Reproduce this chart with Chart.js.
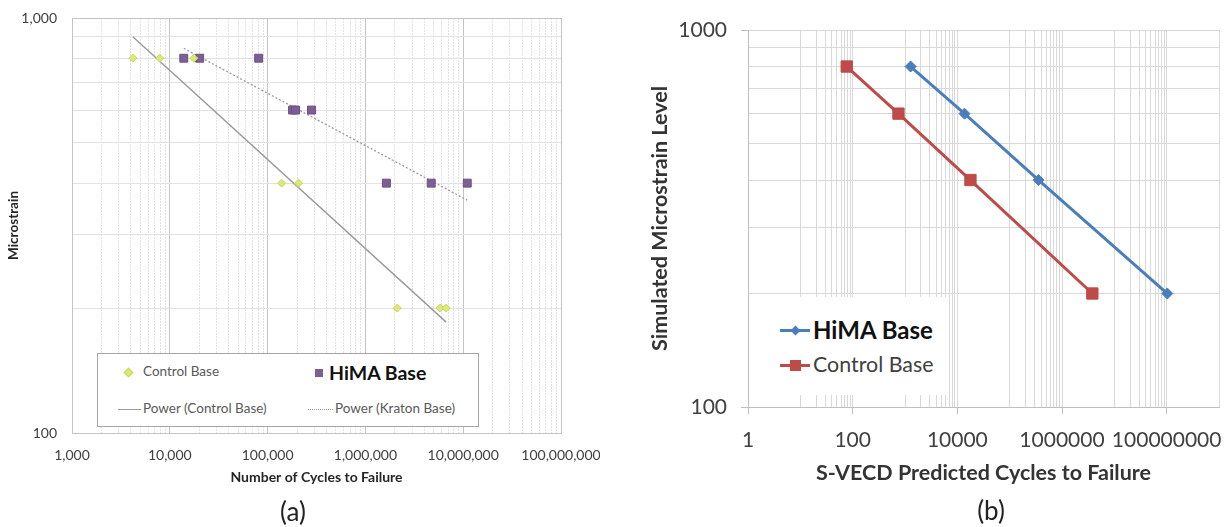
<!DOCTYPE html>
<html><head><meta charset="utf-8">
<script src="https://cdn.jsdelivr.net/npm/chart.js@4.4.1/dist/chart.umd.min.js"></script>
<style>
html,body{margin:0;padding:0;background:#fff;}
#wrap{position:relative;width:1228px;height:527px;overflow:hidden;font-family:Lato,sans-serif;}
canvas{position:absolute;top:0;}
#ca{left:0;}
#cb{left:600px;}
.cap{position:absolute;font-size:26px;color:#222;transform:translate(-50%,-50%);line-height:1;}
.leg{position:absolute;background:#fff;}
.lt{position:absolute;white-space:nowrap;transform:translateY(-50%);line-height:1;}
.abs{position:absolute;}
</style></head>
<body><div id="wrap">
<canvas id="ca" width="600" height="527"></canvas>
<canvas id="cb" width="628" height="527"></canvas>
<div id="legA" class="leg" style="left:97px;top:353px;width:380px;height:72px;border:1px solid #a6a6a6;"></div>
<div id="legB" class="leg" style="left:749px;top:297px;width:200px;height:98px;"></div>
<div class="cap" style="left:293px;top:511px;">(a)</div>
<div class="cap" style="left:991px;top:510px;">(b)</div>
</div>
<script>
// ---------- Chart (a) data ----------
const aControlCycles = [4200, 7900, 17600, 139000, 207000, 2120000, 5800000, 6700000];
const aControlStrain = [800, 800, 800, 400, 400, 200, 200, 200];
const aHimaCycles = [13900, 20200, 81000, 180000, 193000, 281000, 1640000, 4710000, 11000000];
const aHimaStrain = [800, 800, 800, 600, 600, 600, 400, 400, 400];
const aPowerControlCycles = [4190, 6700000];
const aPowerControlStrain = [901, 185];
const aPowerKratonCycles = [13900, 11000000];
const aPowerKratonStrain = [845, 364];
const aXTicks = [1000, 10000, 100000, 1000000, 10000000, 100000000];
const aYTicks = [100, 1000];

// ---------- Chart (b) data ----------
const bHimaCycles = [1280, 13700, 357000, 103000000];
const bHimaStrain = [800, 600, 400, 200];
const bControlCycles = [77, 750, 17800, 3800000];
const bControlStrain = [800, 600, 400, 200];
const bXTicks = [1, 100, 10000, 1000000, 100000000];
const bYTicks = [100, 1000];

const FONT = 'Lato';
const pts = (xs, ys) => xs.map((x, i) => ({x: x, y: ys[i]}));

// grid positions (axis structure, not data)
const aXGrid = [];
aXTicks.forEach((d, i) => { aXGrid.push(d); if (i < aXTicks.length - 1) for (let m = 2; m <= 9; m++) aXGrid.push(d * m); });
const aYGrid = [];
for (let m = 1; m <= 10; m++) aYGrid.push(100 * m);
const bXGrid = [];
bXTicks.forEach(d => { bXGrid.push(d); for (let m = 1; m <= 9; m++) bXGrid.push(d * 10 * m); });
bXGrid.push(bXTicks[bXTicks.length - 1] * 10);
const bYGrid = aYGrid.slice();

const setTicks = list => s => { s.ticks = list.map(v => ({value: v})); };
const fitX = h => s => { s.height = h; s.paddingLeft = 0; s.paddingRight = 0; };
const fitY = w => s => { s.width = w; s.paddingTop = 0; s.paddingBottom = 0; };

// ---------- Chart (a) ----------
const aSets = [
  {label:'Control Base', data: pts(aControlCycles, aControlStrain), pointStyle:'rectRot', pointRadius:4,
   backgroundColor:'#dde87c', borderColor:'#c8da4e', borderWidth:1, showLine:false, order:1},
  {label:'HiMA Base', data: pts(aHimaCycles, aHimaStrain), pointStyle:'rect', pointRadius:5.6,
   backgroundColor:'#7e5f95', borderColor:'#6d4f84', borderWidth:1, showLine:false, order:2},
  {label:'Power (Control Base)', data: pts(aPowerControlCycles, aPowerControlStrain), showLine:true, pointRadius:0,
   borderColor:'#9a9a9a', borderWidth:1.4, order:3},
  {label:'Power (Kraton Base)', data: pts(aPowerKratonCycles, aPowerKratonStrain), showLine:true, pointRadius:0,
   borderColor:'#9a9a9a', borderWidth:1.3, borderDash:[2,2], order:4}
];
new Chart(document.getElementById('ca'), {
  type:'scatter',
  data:{datasets:aSets},
  options:{
    responsive:false, animation:false, events:[], devicePixelRatio:1,
    layout:{padding:{left:0, right:39, top:18, bottom:0}},
    plugins:{legend:{display:false}, tooltip:{enabled:false}},
    scales:{
      x:{type:'logarithmic', min:aXTicks[0], max:aXTicks[aXTicks.length-1],
        afterBuildTicks:setTicks(aXGrid), afterFit:fitX(94),
        ticks:{autoSkip:false, maxRotation:0, minRotation:0, padding:13.6, color:'#404040', font:{family:FONT, size:14},
          callback:v=> aXTicks.includes(v) ? v.toLocaleString('en-US') : ''},
        grid:{drawTicks:false, color:c=> (c.tick && aXTicks.includes(c.tick.value)) ? '#c4c4c4' : '#e2e2e2'},
        border:{color:'#c4c4c4', dash:c=> (c.tick && !aXTicks.includes(c.tick.value)) ? [2,1] : []},
        title:{display:true, text:'Number of Cycles to Failure', color:'#262626', font:{family:FONT, size:14, weight:'bold'}, padding:{top:0, bottom:41.6}}
      },
      y:{type:'logarithmic', min:aYTicks[0], max:aYTicks[1],
        afterBuildTicks:setTicks(aYGrid), afterFit:fitY(72),
        ticks:{autoSkip:false, padding:15, color:'#404040', font:{family:FONT, size:14},
          callback:v=> aYTicks.includes(v) ? v.toLocaleString('en-US') : ''},
        grid:{drawTicks:false, color:c=> (c.tick && aYTicks.includes(c.tick.value)) ? '#c4c4c4' : '#e2e2e2'},
        border:{color:'#c4c4c4'},
        title:{display:true, text:'Microstrain', color:'#262626', font:{family:FONT, size:13.5, weight:'bold'}, padding:{top:5.9, bottom:0}}
      }
    }
  }
});

// ---------- Chart (b) ----------
const bSets = [
  {label:'HiMA Base', data: pts(bHimaCycles, bHimaStrain), showLine:true, borderColor:'#4a7ebb', backgroundColor:'#4a7ebb',
   borderWidth:3, pointStyle:'rectRot', pointRadius:5.5, pointBorderWidth:1},
  {label:'Control Base', data: pts(bControlCycles, bControlStrain), showLine:true, borderColor:'#be4b48', backgroundColor:'#be4b48',
   borderWidth:3, pointStyle:'rect', pointRadius:8, pointBorderWidth:1}
];
new Chart(document.getElementById('cb'), {
  type:'scatter',
  data:{datasets:bSets},
  options:{
    responsive:false, animation:false, events:[], devicePixelRatio:1,
    layout:{padding:{left:0, right:8, top:30, bottom:0}},
    plugins:{legend:{display:false}, tooltip:{enabled:false}},
    scales:{
      x:{type:'logarithmic', min:bXTicks[0], max:bXTicks[bXTicks.length-1]*10,
        afterBuildTicks:setTicks(bXGrid), afterFit:fitX(120),
        ticks:{autoSkip:false, maxRotation:0, minRotation:0, padding:13.4, color:'#404040', font:{family:FONT, size:21},
          callback:v=> bXTicks.includes(v) ? String(v) : ''},
        grid:{drawTicks:true, tickLength:7, color:'#d9d9d9',
          tickColor:c=> (c.tick && bXTicks.includes(c.tick.value)) ? '#bfbfbf' : 'rgba(0,0,0,0)'},
        border:{color:'#bfbfbf'},
        title:{display:true, text:'S-VECD Predicted Cycles to Failure', color:'#333333', font:{family:FONT, size:21.5, weight:'bold'}, padding:{top:0, bottom:41}}
      },
      y:{type:'logarithmic', min:bYTicks[0], max:bYTicks[1],
        afterBuildTicks:setTicks(bYGrid), afterFit:fitY(148),
        ticks:{autoSkip:false, padding:14, color:'#404040', font:{family:FONT, size:21},
          callback:v=> bYTicks.includes(v) ? String(v) : ''},
        grid:{drawTicks:true, tickLength:7, color:'#d9d9d9',
          tickColor:c=> (c.tick && bYTicks.includes(c.tick.value)) ? '#bfbfbf' : 'rgba(0,0,0,0)'},
        border:{color:'#bfbfbf'},
        title:{display:true, text:'Simulated Microstrain Level', color:'#333333', font:{family:FONT, size:21.5, weight:'bold'}, padding:{top:47, bottom:0}}
      }
    }
  }
});

// ---------- HTML legends (built from the datasets) ----------
function el(parent, css, text) {
  const d = document.createElement('div');
  d.className = 'abs';
  d.style.cssText = css;
  if (text !== undefined) { d.className = 'lt'; d.textContent = text; }
  parent.appendChild(d);
  return d;
}
// legend (a): layout per entry
const legA = document.getElementById('legA');
const aLegLayout = [
  {mx:30, my:18, tx:45, font:'13.5px', weight:'normal', color:'#595959'},
  {mx:221, my:19, tx:231, font:'19.5px', weight:'bold', color:'#111'},
  {lx:20, lw:23, my:55, tx:45, font:'13.5px', weight:'normal', color:'#595959'},
  {lx:210, lw:25, my:55, tx:237, font:'13.5px', weight:'normal', color:'#595959'}
];
aSets.forEach((ds, i) => {
  const L = aLegLayout[i];
  if (ds.showLine) {
    el(legA, `left:${L.lx}px;top:${L.my}px;width:${L.lw}px;height:0;border-top:1px ${ds.borderDash ? 'dotted' : 'solid'} ${ds.borderColor};`);
  } else if (ds.pointStyle === 'rectRot') {
    el(legA, `left:${L.mx-3}px;top:${L.my-3}px;width:5px;height:5px;background:${ds.backgroundColor};border:1px solid ${ds.borderColor};transform:rotate(45deg);`);
  } else {
    el(legA, `left:${L.mx-4}px;top:${L.my-4}px;width:8px;height:8px;background:${ds.backgroundColor};`);
  }
  el(legA, `left:${L.tx}px;top:${L.my}px;font-size:${L.font};font-weight:${L.weight};color:${L.color};`, ds.label);
});
// legend (b)
const legB = document.getElementById('legB');
const bLegLayout = [
  {y:33, font:'24px', weight:'bold', color:'#111'},
  {y:68, font:'21.4px', weight:'normal', color:'#404040'}
];
bSets.forEach((ds, i) => {
  const L = bLegLayout[i];
  el(legB, `left:31px;top:${L.y-1.5}px;width:30px;height:3px;background:${ds.borderColor};`);
  if (ds.pointStyle === 'rectRot') {
    el(legB, `left:${46-3.5}px;top:${L.y-3.5}px;width:7px;height:7px;background:${ds.backgroundColor};transform:rotate(45deg);`);
  } else {
    el(legB, `left:${46-5.5}px;top:${L.y-5.5}px;width:11px;height:11px;background:${ds.backgroundColor};`);
  }
  el(legB, `left:64px;top:${L.y}px;font-size:${L.font};font-weight:${L.weight};color:${L.color};`, ds.label);
});
</script>
</body></html>
